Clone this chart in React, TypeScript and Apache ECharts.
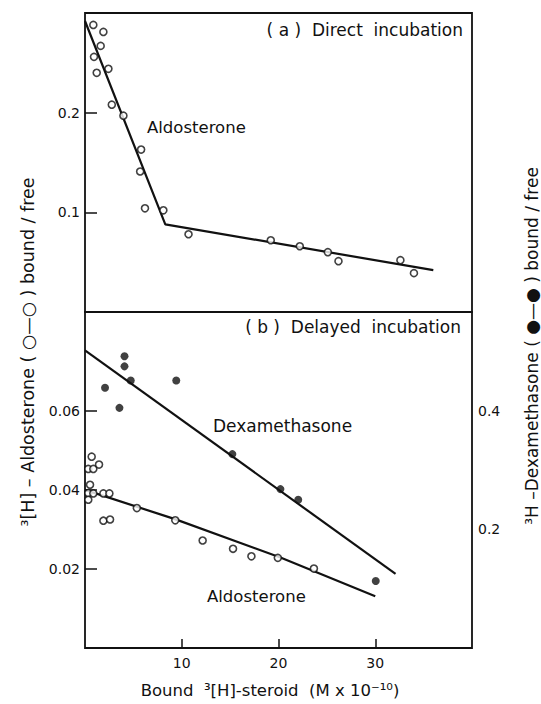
import React, { useEffect, useRef } from "react";
import * as echarts from "echarts";

// Panel (a) – direct incubation, aldosterone (open circles)
const directX = [0.86, 1.9, 1.62, 0.93, 2.42, 1.21, 2.77, 3.97, 5.8, 5.7, 6.2, 8.1, 10.7, 19.2, 22.2, 25.1, 26.2, 32.6, 34.0];
const directY = [0.288, 0.281, 0.267, 0.256, 0.244, 0.24, 0.208, 0.197, 0.163, 0.141, 0.104, 0.102, 0.078, 0.072, 0.066, 0.06, 0.051, 0.052, 0.039];
const directFitX = [0, 8.3, 36];
const directFitY = [0.292, 0.088, 0.042];

// Panel (b) – delayed incubation, aldosterone (open circles, left axis)
const delayedAldoX = [0.69, 0.34, 0.86, 1.45, 0.52, 0.34, 0.86, 0.34, 1.9, 2.52, 1.9, 2.59, 5.36, 9.33, 12.16, 15.3, 17.2, 19.93, 23.66];
const delayedAldoY = [0.0484, 0.0453, 0.0453, 0.0464, 0.0413, 0.0392, 0.0391, 0.0375, 0.0391, 0.0391, 0.0322, 0.0325, 0.0354, 0.0323, 0.0272, 0.0251, 0.0232, 0.0228, 0.0201];
const delayedAldoFitX = [0, 9.3, 20.2, 30.0];
const delayedAldoFitY = [0.04, 0.0326, 0.0229, 0.0131];

// Panel (b) – delayed incubation, dexamethasone (filled circles, right axis)
const dexX = [2.07, 4.08, 4.08, 4.73, 3.56, 9.43, 15.23, 20.2, 22.04, 30.05];
const dexY = [0.439, 0.492, 0.475, 0.451, 0.405, 0.451, 0.327, 0.268, 0.25, 0.113];
const dexFitX = [0, 32.1];
const dexFitY = [0.502, 0.125];

// Tick labels
const xTicks = [10, 20, 30];
const aTicks = [0.1, 0.2];
const bLeftTicks = [0.02, 0.04, 0.06];
const bRightTicks = [0.2, 0.4];

const zip = (xs: number[], ys: number[]) => xs.map((x, i) => [x, ys[i]]);

const FONT = "DejaVu Sans";
const INK = "#111";

export default function App() {
  const ref = useRef<HTMLDivElement>(null);

  useEffect(() => {
    const chart = echarts.init(ref.current!, null, { renderer: "svg" });
    const tickStyle = { color: INK, width: 1.5 };
    const labelStyle = { color: INK, fontSize: 14, fontFamily: FONT };
    const openSym = {
      type: "scatter" as const,
      symbol: "circle",
      symbolSize: 7,
      itemStyle: { color: "#fff", borderColor: INK, borderWidth: 1.6 },
      z: 4,
      silent: true,
    };
    const fitLine = {
      type: "line" as const,
      showSymbol: false,
      symbol: "none",
      lineStyle: { color: INK, width: 2.2 },
      z: 3,
      silent: true,
    };
    chart.setOption({
      animation: false,
      backgroundColor: "#fff",
      grid: [
        { left: 85, top: 13, width: 387, height: 299, show: true, borderColor: INK, borderWidth: 1.8, backgroundColor: "transparent" },
        { left: 85, top: 312, width: 387, height: 336, show: true, borderColor: INK, borderWidth: 1.8, backgroundColor: "transparent" },
      ],
      xAxis: [
        {
          gridIndex: 0, type: "value", min: 0, max: 40, interval: 10,
          axisLine: { show: false }, axisTick: { show: false }, axisLabel: { show: false }, splitLine: { show: false },
        },
        {
          gridIndex: 1, type: "value", min: 0, max: 40, interval: 10,
          axisLine: { show: false },
          axisTick: { show: true, inside: true, length: 9, lineStyle: tickStyle, customValues: xTicks },
          axisLabel: { ...labelStyle, margin: 8, customValues: xTicks, formatter: (v: number) => String(v) },
          splitLine: { show: false },
        },
      ],
      yAxis: [
        {
          gridIndex: 0, type: "value", min: 0, max: 0.3, interval: 0.1,
          axisLine: { show: false },
          axisTick: { show: true, inside: true, length: 12, lineStyle: tickStyle, customValues: aTicks },
          axisLabel: { ...labelStyle, margin: 5, customValues: aTicks, formatter: (v: number) => String(v) },
          splitLine: { show: false },
        },
        {
          gridIndex: 1, type: "value", min: 0, max: 0.085, interval: 0.02,
          axisLine: { show: false },
          axisTick: { show: true, inside: true, length: 12, lineStyle: tickStyle, customValues: bLeftTicks },
          axisLabel: { ...labelStyle, margin: 5, customValues: bLeftTicks, formatter: (v: number) => String(v) },
          splitLine: { show: false },
        },
        {
          gridIndex: 1, type: "value", position: "right", min: 0, max: 0.085 * 20 / 3, interval: 0.2,
          axisLine: { show: false },
          axisTick: { show: false },
          axisLabel: { ...labelStyle, margin: 6, customValues: bRightTicks, formatter: (v: number) => String(v) },
          splitLine: { show: false },
        },
      ],
      series: [
        { ...fitLine, xAxisIndex: 0, yAxisIndex: 0, data: zip(directFitX, directFitY) },
        { ...openSym, xAxisIndex: 0, yAxisIndex: 0, data: zip(directX, directY) },
        { ...fitLine, xAxisIndex: 1, yAxisIndex: 2, data: zip(dexFitX, dexFitY) },
        {
          type: "scatter", xAxisIndex: 1, yAxisIndex: 2, data: zip(dexX, dexY),
          symbol: "circle", symbolSize: 8, itemStyle: { color: INK }, z: 4, silent: true,
        },
        { ...fitLine, xAxisIndex: 1, yAxisIndex: 1, data: zip(delayedAldoFitX, delayedAldoFitY) },
        { ...openSym, xAxisIndex: 1, yAxisIndex: 1, data: zip(delayedAldoX, delayedAldoY) },
      ],
      graphic: [
        { type: "text", x: 463, y: 30, style: { text: "( a )  Direct  incubation", fontSize: 17, fontFamily: FONT, fill: INK, align: "right", verticalAlign: "middle" } },
        { type: "text", x: 147, y: 127, style: { text: "Aldosterone", fontSize: 16.5, fontFamily: FONT, fill: INK, align: "left", verticalAlign: "middle" } },
        { type: "text", x: 461, y: 327, style: { text: "( b )  Delayed  incubation", fontSize: 17, fontFamily: FONT, fill: INK, align: "right", verticalAlign: "middle" } },
        { type: "text", x: 213, y: 426, style: { text: "Dexamethasone", fontSize: 17, fontFamily: FONT, fill: INK, align: "left", verticalAlign: "middle" } },
        { type: "text", x: 207, y: 596, style: { text: "Aldosterone", fontSize: 16.5, fontFamily: FONT, fill: INK, align: "left", verticalAlign: "middle" } },
        {
          type: "text", x: 270, y: 690,
          style: { text: "Bound  ³[H]-steroid  (M x 10⁻¹⁰)", fontSize: 16.5, fontFamily: FONT, fill: INK, align: "center", verticalAlign: "middle" },
        },
        {
          type: "text", x: 28, y: 352, rotation: Math.PI / 2,
          style: { text: "³[H] – Aldosterone ( ○—○ ) bound / free", fontSize: 17.5, fontFamily: FONT, fill: INK, align: "center", verticalAlign: "middle" },
        },
        {
          type: "text", x: 532, y: 346, rotation: Math.PI / 2,
          style: { text: "³H –Dexamethasone ( ●—● ) bound / free", fontSize: 17, fontFamily: FONT, fill: INK, align: "center", verticalAlign: "middle" },
        },
      ],
    });
    return () => chart.dispose();
  }, []);

  return (
    <div
      ref={ref}
      style={{ position: "fixed", left: 0, top: 0, width: 541, height: 704, background: "#fff" }}
    />
  );
}
